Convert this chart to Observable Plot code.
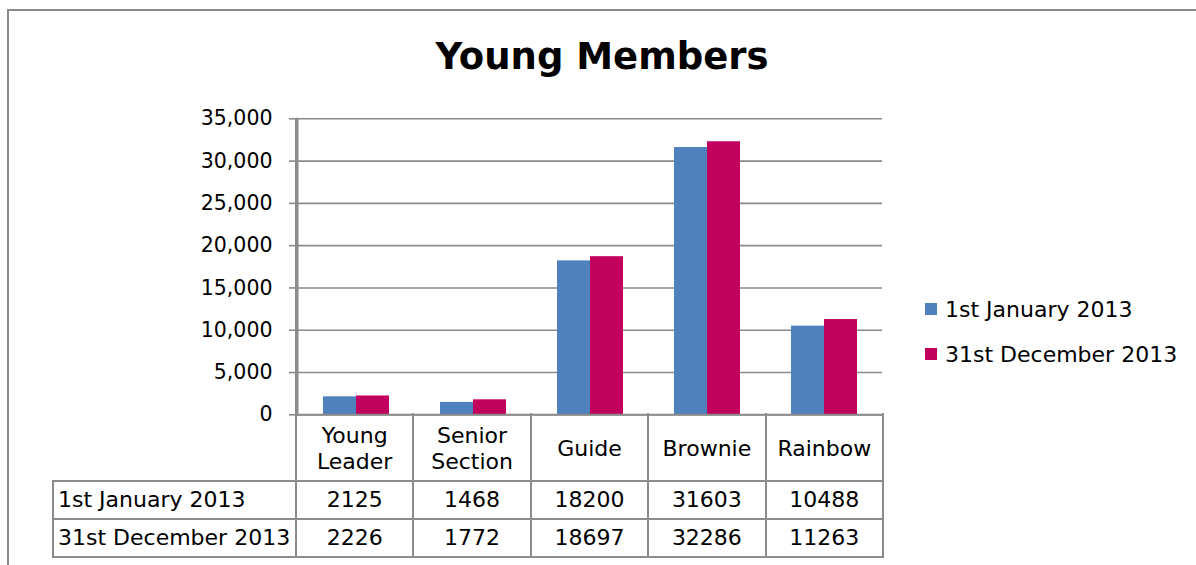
<!DOCTYPE html>
<html>
<head>
<meta charset="utf-8">
<script src="https://cdn.jsdelivr.net/npm/d3@7"></script>
<script src="https://cdn.jsdelivr.net/npm/@observablehq/plot@0.6"></script>
<style>
  html, body { margin: 0; padding: 0; background: #fff; }
  #page { position: relative; width: 1196px; height: 565px; overflow: hidden; font-family: "DejaVu Sans", sans-serif; color: #000; }
  #frame { position: absolute; left: 7px; top: 9px; width: 1300px; height: 700px; border-left: 2px solid #8a8a8a; border-top: 2px solid #8a8a8a; box-sizing: border-box; }
  #title { position: absolute; left: 0; top: 38px; width: 1204px; text-align: center; font-weight: bold; font-size: 37px; line-height: 37px; }
  #chart { position: absolute; left: 0; top: 100px; }
  .ln { position: absolute; background: #8c8c8c; }
  .cell { position: absolute; display: flex; align-items: center; font-size: 22px; line-height: 26px; white-space: pre; }
  .legend-item { position: absolute; display: flex; align-items: center; font-size: 22px; white-space: nowrap; }
  .sw { width: 12px; height: 12px; margin-right: 8px; }
</style>
</head>
<body>
<div id="page">
  <div id="frame"></div>
  <div id="title">Young Members</div>
  <div id="chart"></div>
</div>
<script>
// ---- data ----
const categories = ["Young Leader", "Senior Section", "Guide", "Brownie", "Rainbow"];
const categoryLabels = ["Young\nLeader", "Senior\nSection", "Guide", "Brownie", "Rainbow"];
const seriesNames = ["1st January 2013", "31st December 2013"];
const jan2013 = [2125, 1468, 18200, 31603, 10488];
const dec2013 = [2226, 1772, 18697, 32286, 11263];
const seriesColors = ["#4F81BD", "#C2005D"];
const yTicks = [0, 5000, 10000, 15000, 20000, 25000, 30000, 35000];

const seriesValues = [jan2013, dec2013];
const rows = categories.flatMap((c, i) =>
  seriesNames.map((s, k) => ({category: c, series: s, value: seriesValues[k][i]})));

// ---- chart ----
const W = 900, H = 330, ML = 296, MR = 17, MT = 18.3, MB = 15.7;
const chart = Plot.plot({
  width: W, height: H,
  marginLeft: ML, marginRight: MR, marginTop: MT, marginBottom: MB,
  style: {background: "transparent", fontFamily: "DejaVu Sans", fontSize: "20.5px", color: "#000", overflow: "visible"},
  fx: {domain: categories, padding: 0, axis: null},
  x: {domain: seriesNames, paddingInner: 0, paddingOuter: 0.742, axis: null},
  y: {domain: [0, 35000], label: null},
  color: {domain: seriesNames, range: seriesColors},
  marks: [
    Plot.gridY(yTicks, {stroke: "#8a8a8a", strokeOpacity: 1, strokeWidth: 1.6}),
    Plot.barY(rows, {fx: "category", x: "series", y: "value", fill: "series"}),
    Plot.ruleY([0], {stroke: "#8a8a8a", strokeWidth: 2}),
    Plot.axisY(yTicks, {label: null, tickSize: 8, tickPadding: 17, tickFormat: d3.format(","), stroke: "#8a8a8a", strokeWidth: 1.6, fill: "#000", strokeOpacity: 1}),
    Plot.frame({anchor: "left", facetAnchor: "left", stroke: "#8a8a8a", strokeWidth: 2})
  ]
});
document.getElementById("chart").appendChild(chart);

// ---- data table (built from the same arrays) ----
const page = document.getElementById("page");
const x0 = ML, x1 = W - MR, step = (x1 - x0) / categories.length;
const tableLeft = 53;
const yTop = 100 + H - MB;         // zero line
const yAxisTop = 100 + MT;         // top of value axis
const rowY = [yTop, 481, 519, 557];
function line(x, y, w, h) {
  const d = document.createElement("div");
  d.className = "ln";
  d.style.left = x + "px"; d.style.top = y + "px";
  d.style.width = w + "px"; d.style.height = h + "px";
  page.appendChild(d);
}
function cell(text, x, y, w, h, align) {
  const d = document.createElement("div");
  d.className = "cell";
  d.style.left = x + "px"; d.style.top = y + "px";
  d.style.width = w + "px"; d.style.height = h + "px";
  d.style.justifyContent = align === "left" ? "flex-start" : "center";
  d.style.textAlign = align === "left" ? "left" : "center";
  if (align === "left") d.style.paddingLeft = "5px";
  d.textContent = text;
  page.appendChild(d);
}
// horizontal lines
for (let r = 1; r < rowY.length; r++) line(tableLeft - 1, rowY[r] - 1, x1 - tableLeft + 2, 2);
// vertical lines
line(tableLeft - 1, rowY[1] - 1, 2, rowY[3] - rowY[1] + 2);
line(x0 - 1, yAxisTop, 2, rowY[0] - yAxisTop);
for (let i = 0; i <= categories.length; i++) line(x0 + i * step - 1, rowY[0] - 1, 2, rowY[3] - rowY[0] + 1);
// header
categoryLabels.forEach((c, i) => cell(c, x0 + i * step, rowY[0] + 2, step, rowY[1] - rowY[0] - 2, "center"));
// rows
seriesNames.forEach((s, k) => {
  cell(s, tableLeft, rowY[k + 1], x0 - tableLeft, rowY[k + 2] - rowY[k + 1], "left");
  seriesValues[k].forEach((v, i) => cell(String(v), x0 + i * step, rowY[k + 1], step, rowY[k + 2] - rowY[k + 1], "center"));
});

// ---- legend ----
const legendY = [309, 354];
seriesNames.forEach((s, k) => {
  const d = document.createElement("div");
  d.className = "legend-item";
  d.style.left = "925px";
  d.style.top = (legendY[k] - 14) + "px";
  d.style.height = "28px";
  const sw = document.createElement("div");
  sw.className = "sw";
  sw.style.background = seriesColors[k];
  const t = document.createElement("span");
  t.textContent = s;
  d.appendChild(sw); d.appendChild(t);
  page.appendChild(d);
});
</script>
</body>
</html>
